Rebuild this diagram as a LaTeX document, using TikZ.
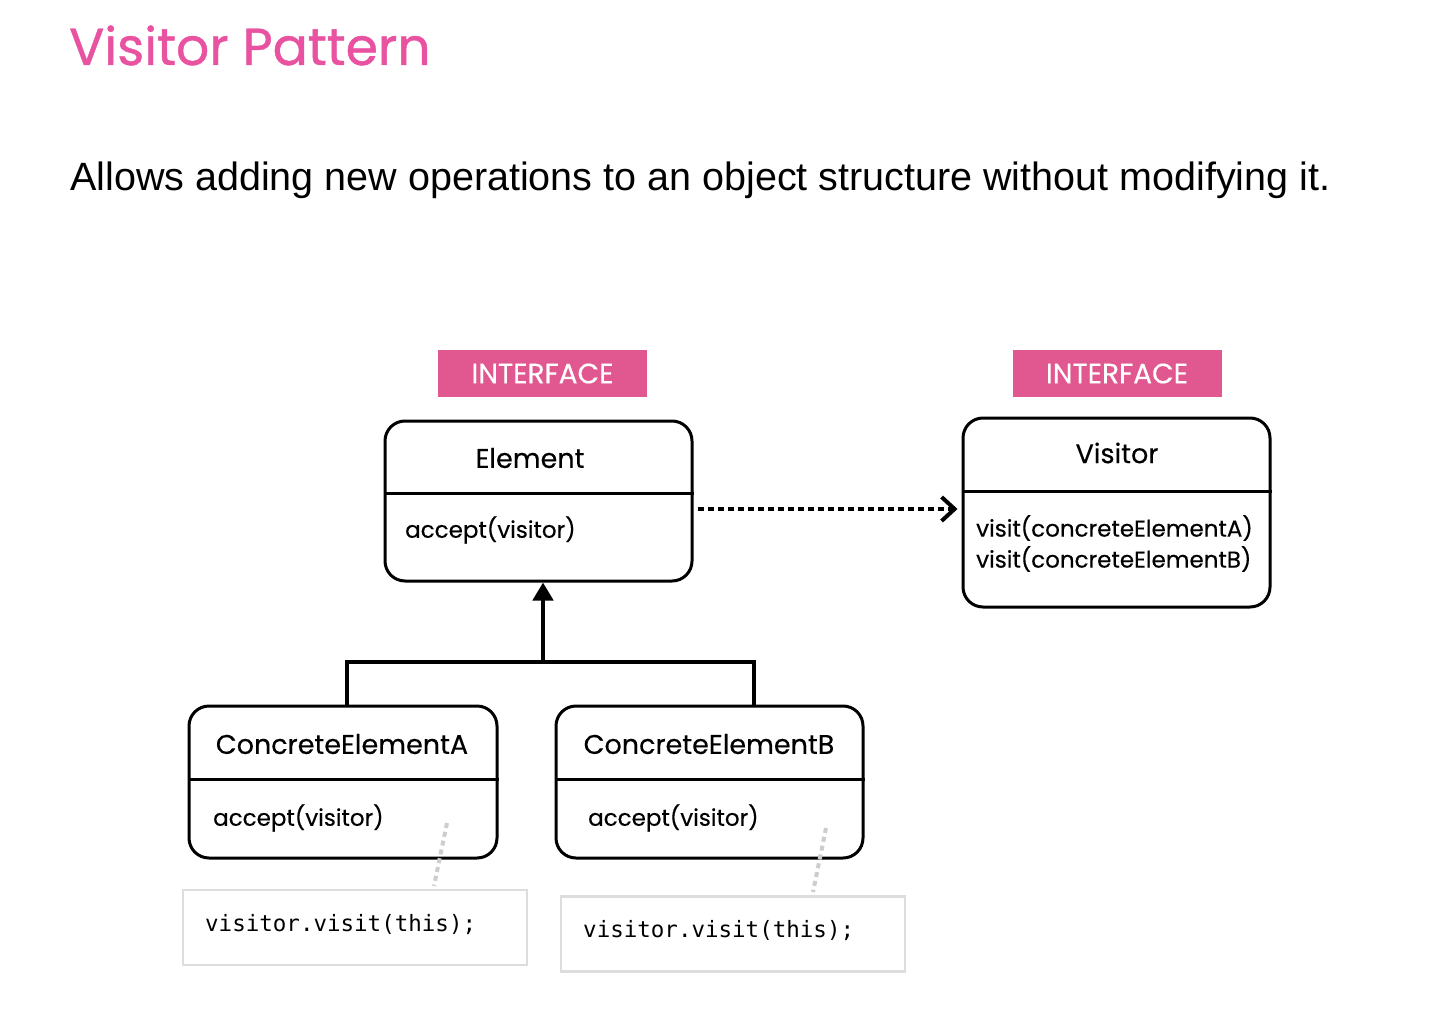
\documentclass[tikz,border=0pt]{standalone}
\usepackage{fontspec}
\setmainfont{Poppins}[FakeBold=0.35]
\newfontfamily\titlef{Poppins}[FakeBold=0.8]
\newfontfamily\arialf{Liberation Sans}
\newfontfamily\codef{DejaVu Sans Mono}
\usetikzlibrary{arrows.meta}
\definecolor{titlepink}{RGB}{232,82,160}
\definecolor{ifpink}{RGB}{224,88,143}
\definecolor{notegray}{RGB}{221,221,221}
\definecolor{linkgray}{RGB}{205,205,205}
\tikzset{
  umlbox/.style={draw=black, line width=3pt, rounded corners=20pt, fill=white},
  ifbox/.style={fill=ifpink, text=white, minimum width=209pt, minimum height=47pt, inner sep=0pt, font=\fontsize{28}{32}\selectfont},
  clsname/.style={font=\fontsize{27}{31}\selectfont, inner sep=0pt},
  member/.style={font=\fontsize{23}{31}\selectfont, inner sep=0pt, anchor=west, align=left},
  notebox/.style={draw=notegray, line width=2.5pt, minimum width=344pt, minimum height=75pt, inner sep=0pt},
  codetext/.style={font=\codef\fontsize{22.5}{26}\selectfont, inner sep=0pt, anchor=west},
  inherit/.style={draw=black, line width=4.5pt},
  depend/.style={draw=black, line width=4pt, dash pattern=on 6pt off 4pt},
  notelink/.style={draw=linkgray, line width=4pt, dash pattern=on 5pt off 4pt},
}
\begin{document}
\begin{tikzpicture}[x=1pt, y=-1pt]
\useasboundingbox[fill=white] (0,0) rectangle (1442,1032);

% title and subtitle
\node[anchor=base west, inner sep=0pt, text=titlepink, font=\titlef\fontsize{52}{58}\selectfont] (title) at (69,65) {Visitor Pattern};
\node[anchor=base west, inner sep=0pt, font=\arialf\fontsize{39.5}{44}\selectfont] (subtitle) at (70,191) {Allows adding new operations to an object structure without modifying it.};

% interface labels
\node[ifbox] (if1) at (542.5,373.5) {INTERFACE};
\node[ifbox] (if2) at (1117,373.5) {INTERFACE};

% Element
\node[umlbox, minimum width=307pt, minimum height=160pt] (elem) at (538.5,501) {};
\draw[line width=3pt] ([yshift=-74pt]elem.north west) -- ([yshift=-74pt]elem.north east);
\node[clsname] (elemname) at (530,458) {Element};
\node[member] (elemop) at (405,530) {accept(visitor)};

% Visitor
\node[umlbox, minimum width=307pt, minimum height=189pt] (vis) at (1116.5,512.5) {};
\draw[line width=3pt] ([yshift=-75pt]vis.north west) -- ([yshift=-75pt]vis.north east);
\node[clsname] (visname) at (1117,453) {Visitor};
\node[member] (visop) at (976,543.5) {visit(concreteElementA)\\visit(concreteElementB)};

% ConcreteElementA
\node[umlbox, minimum width=308pt, minimum height=152pt] (ca) at (343,782) {};
\draw[line width=3pt] ([yshift=-75pt]ca.north west) -- ([yshift=-75pt]ca.north east);
\node[clsname] (caname) at (342,744) {ConcreteElementA};
\node[member] (caop) at (213,818) {accept(visitor)};

% ConcreteElementB
\node[umlbox, minimum width=307pt, minimum height=152pt] (cb) at (709.5,782) {};
\draw[line width=3pt] ([yshift=-75pt]cb.north west) -- ([yshift=-75pt]cb.north east);
\node[clsname] (cbname) at (709,744) {ConcreteElementB};
\node[member] (cbop) at (588,818) {accept(visitor)};

% notes
\node[notebox] (na) at (355,927.5) {};
\node[codetext] (natext) at (205,925) {visitor.visit(this);};
\node[notebox] (nb) at (733,934) {};
\node[codetext] (nbtext) at (583,931) {visitor.visit(this);};

% inheritance
\coordinate (junc) at (543,662);
\draw[inherit, -{Triangle[length=18pt,width=20pt]}] (junc) -- (elem.south -| junc);
\draw[inherit, line cap=rect] (ca.north -| 347,0) |- (junc);
\draw[inherit, line cap=rect] (cb.north -| 754,0) |- (junc);

% dependency
\draw[depend, -{Straight Barb[length=13pt,width=24pt,line width=4pt]}] ([xshift=4pt]elem.east |- 0,509) -- ([xshift=-4pt]vis.west |- 0,509);

% note links
\coordinate (la) at (447,823);
\coordinate (lae) at (434,886);
\coordinate (lb) at (826,828);
\coordinate (lbe) at (813,892);
\draw[notelink] (la) -- (lae);
\draw[notelink] (lb) -- (lbe);
\end{tikzpicture}
\end{document}
